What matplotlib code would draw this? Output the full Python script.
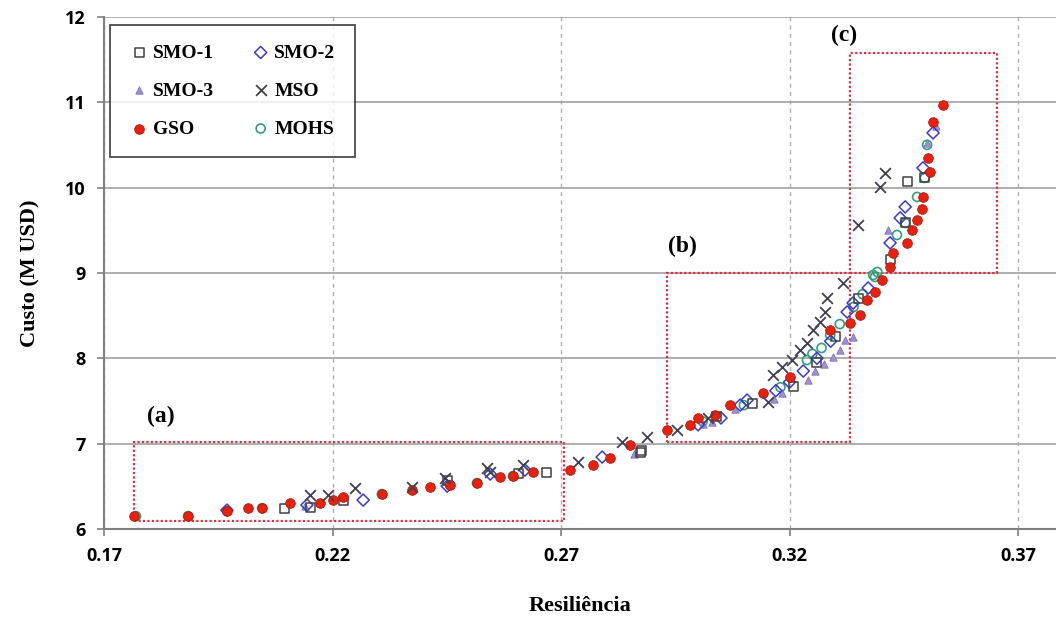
import matplotlib
matplotlib.use("Agg")
import matplotlib.pyplot as plt
from matplotlib.patches import Rectangle

# Pareto fronts
smo1_x = [0.2096, 0.2151, 0.2223, 0.2451, 0.2606, 0.2669, 0.2873, 0.2877, 0.3040, 0.3120,
          0.3208, 0.3260, 0.3300, 0.3350, 0.3420, 0.3453, 0.3459, 0.3496]
smo1_y = [6.244, 6.256, 6.338, 6.572, 6.654, 6.666, 6.900, 6.924, 7.320, 7.475,
          7.663, 7.950, 8.250, 8.700, 9.151, 9.585, 10.066, 10.113]

smo2_x = [0.1969, 0.2144, 0.2267, 0.2451, 0.2545, 0.2621, 0.2790, 0.3000, 0.3050, 0.3092,
          0.3107, 0.3170, 0.3200, 0.3230, 0.3260, 0.3290, 0.3326, 0.3339, 0.3372, 0.3420,
          0.3442, 0.3453, 0.3492, 0.3514]
smo2_y = [6.220, 6.280, 6.338, 6.502, 6.643, 6.690, 6.842, 7.220, 7.300, 7.451,
          7.510, 7.620, 7.720, 7.850, 8.000, 8.200, 8.542, 8.647, 8.823, 9.351,
          9.644, 9.773, 10.230, 10.640]

smo3_x = [0.2140, 0.2595, 0.2860, 0.3010, 0.3030, 0.3080, 0.3165, 0.3184, 0.3240, 0.3255,
          0.3275, 0.3295, 0.3310, 0.3321, 0.3339, 0.3416, 0.3501, 0.3520]
smo3_y = [6.270, 6.619, 6.880, 7.230, 7.250, 7.400, 7.520, 7.592, 7.750, 7.850,
          7.930, 8.014, 8.096, 8.213, 8.249, 9.503, 10.523, 10.720]

mso_x = [0.2151, 0.2190, 0.2249, 0.2374, 0.2446, 0.2538, 0.2545, 0.2617, 0.2737, 0.2834,
         0.2888, 0.2954, 0.3022, 0.3153, 0.3164, 0.3184, 0.3205, 0.3223, 0.3238, 0.3251,
         0.3267, 0.3278, 0.3282, 0.3317, 0.3350, 0.3398, 0.3409]
mso_y = [6.396, 6.396, 6.478, 6.490, 6.596, 6.713, 6.666, 6.748, 6.783, 7.018,
         7.076, 7.158, 7.299, 7.487, 7.803, 7.897, 7.979, 8.096, 8.178, 8.331,
         8.424, 8.542, 8.706, 8.882, 9.562, 10.007, 10.171]

gso_x = [0.1766, 0.1884, 0.1969, 0.2015, 0.2046, 0.2107, 0.2173, 0.2201, 0.2223, 0.2308,
         0.2374, 0.2413, 0.2457, 0.2516, 0.2567, 0.2595, 0.2639, 0.2720, 0.2770, 0.2807,
         0.2851, 0.2932, 0.2982, 0.3000, 0.3037, 0.3070, 0.3142, 0.3201, 0.3289, 0.3332,
         0.3354, 0.3370, 0.3387, 0.3402, 0.3420, 0.3426, 0.3457, 0.3468, 0.3479, 0.3490,
         0.3492, 0.3507, 0.3503, 0.3514, 0.3536]
gso_y = [6.150, 6.150, 6.209, 6.244, 6.244, 6.302, 6.303, 6.338, 6.373, 6.408,
         6.455, 6.490, 6.514, 6.537, 6.607, 6.619, 6.666, 6.690, 6.748, 6.830,
         6.982, 7.158, 7.217, 7.299, 7.334, 7.451, 7.592, 7.780, 8.331, 8.413,
         8.506, 8.682, 8.776, 8.917, 9.069, 9.233, 9.351, 9.503, 9.620, 9.749,
         9.890, 10.183, 10.347, 10.769, 10.968]

mohs_x = [0.1770, 0.1884, 0.1969, 0.2046, 0.2308, 0.2457, 0.2516, 0.2595, 0.3010, 0.3100,
          0.3180, 0.3238, 0.3250, 0.3270, 0.3289, 0.3310, 0.3340, 0.3360, 0.3383, 0.3387,
          0.3392, 0.3435, 0.3453, 0.3479, 0.3496, 0.3501]
mohs_y = [6.150, 6.150, 6.209, 6.244, 6.408, 6.514, 6.537, 6.619, 7.260, 7.450,
          7.660, 7.979, 8.050, 8.120, 8.272, 8.400, 8.600, 8.750, 8.975, 8.952,
          9.010, 9.444, 9.585, 9.890, 10.113, 10.500]

# zoom boxes (x0, x1, y0, y1) and their labels
boxes = [(0.1766, 0.2707, 6.09, 7.02), (0.2932, 0.3332, 7.02, 9.0), (0.3332, 0.3654, 9.0, 11.58)]
box_labels = ["(a)", "(b)", "(c)"]
label_pos = [(0.1795, 7.25), (0.2935, 9.25), (0.3290, 11.72)]

fig = plt.figure(figsize=(10.56, 6.23), dpi=100)
ax = fig.add_axes([0.0985, 0.151, 0.9015, 0.822])

ax.set_xlim(0.17, 0.3783)
ax.set_ylim(6, 12)
ax.set_xticks([0.17, 0.22, 0.27, 0.32, 0.37])
ax.set_yticks([6, 7, 8, 9, 10, 11, 12])
ax.set_xticklabels(["0.17", "0.22", "0.27", "0.32", "0.37"])

ax.yaxis.grid(True, color="#a8a8a8", linewidth=1.3, linestyle="-")
ax.xaxis.grid(True, color="#b0b0b0", linewidth=1.0, linestyle=(0, (3, 3)))
ax.set_axisbelow(True)
for s in ["top", "right"]:
    ax.spines[s].set_visible(False)
for s in ["left", "bottom"]:
    ax.spines[s].set_color("#808080")
    ax.spines[s].set_linewidth(1.5)
ax.tick_params(direction="out", length=5, color="#808080", width=1.2, pad=8)
for lab in ax.get_xticklabels() + ax.get_yticklabels():
    lab.set_fontfamily("Open Sans")
    lab.set_fontweight("bold")
    lab.set_fontsize(13)

for (x0, x1, y0, y1) in boxes:
    ax.add_patch(Rectangle((x0, y0), x1 - x0, y1 - y0, fill=False, edgecolor="#e03040",
                           linewidth=1.6, linestyle=(0, (1, 1)), zorder=1))
for txt, (tx, ty) in zip(box_labels, label_pos):
    ax.text(tx, ty, txt, fontfamily="Liberation Serif", fontweight="bold", fontsize=17)

ax.scatter(mohs_x, mohs_y, s=42, marker="o", facecolors="none", edgecolors="#2ea07a",
           linewidths=1.2, label="MOHS", zorder=3)
ax.scatter(smo3_x, smo3_y, s=28, marker="^", color="#a090d0", edgecolors="#8070c0",
           linewidths=0.6, label="SMO-3", zorder=3)
ax.scatter(smo2_x, smo2_y, s=38, marker="D", facecolors="none", edgecolors="#3a3ad0",
           linewidths=1.1, label="SMO-2", zorder=3)
ax.scatter(smo1_x, smo1_y, s=42, marker="s", facecolors="none", edgecolors="#404040",
           linewidths=1.1, label="SMO-1", zorder=3)
ax.scatter(gso_x, gso_y, s=48, marker="o", color="#e8200e", edgecolors="#b01a10",
           linewidths=0.6, label="GSO", zorder=4)
ax.scatter(mso_x, mso_y, s=60, marker="x", color="#404050", linewidths=1.3,
           label="MSO", zorder=5)

handles, labels = ax.get_legend_handles_labels()
hmap = dict(zip(labels, handles))
# legend reads row by row, matplotlib fills columns first
col_order = ["SMO-1", "SMO-3", "GSO", "SMO-2", "MSO", "MOHS"]
leg = ax.legend([hmap[k] for k in col_order], col_order, ncol=2, loc="upper left",
                bbox_to_anchor=(0.0065, 0.985), borderaxespad=0, frameon=True,
                fancybox=False, edgecolor="#202020", handletextpad=0.2,
                columnspacing=1.9, labelspacing=1.05, borderpad=1.0, handlelength=1.0,
                prop={"family": "Liberation Serif", "weight": "bold", "size": 14})
leg.get_frame().set_linewidth(1.3)

ax.set_xlabel("Resiliência", fontfamily="Liberation Serif", fontweight="bold", fontsize=16,
              labelpad=22)
ax.set_ylabel("Custo (M USD)", fontfamily="Liberation Serif", fontweight="bold", fontsize=16,
              labelpad=18)

fig.savefig("out.png", dpi=100)
